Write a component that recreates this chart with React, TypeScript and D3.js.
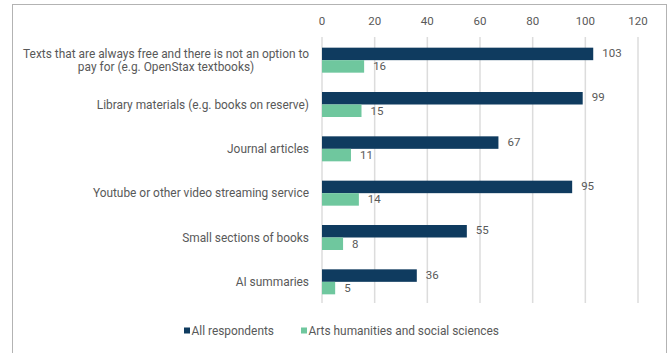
import React, { useLayoutEffect, useRef, useState } from "react";
import * as d3 from "d3";

const categories = [
  "Texts that are always free and there is not an option to pay for (e.g. OpenStax textbooks)",
  "Library materials (e.g. books on reserve)",
  "Journal articles",
  "Youtube or other video streaming service",
  "Small sections of books",
  "AI summaries",
];
const categoryLines = [
  ["Texts that are always free and there is not an option to", "pay for (e.g. OpenStax textbooks)"],
  ["Library materials (e.g. books on reserve)"],
  ["Journal articles"],
  ["Youtube or other video streaming service"],
  ["Small sections of books"],
  ["AI summaries"],
];
const allRespondents = [103, 99, 67, 95, 55, 36];
const artsHumanities = [16, 15, 11, 14, 8, 5];
const seriesNames = ["All respondents", "Arts humanities and social sciences"];
const tickValues = [0, 20, 40, 60, 80, 100, 120];

const W = 669;
const H = 353;
const DARK = "#0f3b5f";
const GREEN = "#6fc79e";
const TEXT = "#595959";
const FONT = "Roboto, 'Noto Sans', sans-serif";
const CAT_SIZE = 11.9;

export default function App() {
  const x = d3.scaleLinear().domain([0, 120]).range([322, 638]);
  const y = d3.scaleBand<string>().domain(categories).range([37, 303]);
  const series = [allRespondents, artsHumanities];
  const colors = [DARK, GREEN];
  const barH = 12.5;
  const labelRight = 309;
  const lineGap = 13;

  const firstLineRef = useRef<SVGTextElement | null>(null);
  const [firstW, setFirstW] = useState(285);
  useLayoutEffect(() => {
    if (firstLineRef.current) {
      const w = firstLineRef.current.getComputedTextLength();
      if (w > 0 && Math.abs(w - firstW) > 0.5) setFirstW(w);
    }
  });

  return (
    <svg
      width={W}
      height={H}
      style={{ position: "absolute", left: 0, top: 0, background: "#fff" }}
      fontFamily={FONT}
    >
      <rect x={12.5} y={4.5} width={654} height={360} fill="#fff" stroke="#b3b3b3" strokeWidth={1} />
      {tickValues.map((t) => (
        <g key={t}>
          <line x1={x(t)} x2={x(t)} y1={37} y2={303} stroke="#dcdcdc" strokeWidth={1.5} />
          <text x={x(t)} y={21} textAnchor="middle" dominantBaseline="central" fontSize={11.5} fill={TEXT}>
            {t}
          </text>
        </g>
      ))}
      {categories.map((c, i) => {
        const cy = (y(c) as number) + y.bandwidth() / 2 + 1;
        const lines = categoryLines[i];
        return (
          <g key={c}>
            {series.map((s, k) => {
              const top = cy - barH + k * barH;
              return (
                <g key={k}>
                  <rect x={x(0)} y={top} width={x(s[i]) - x(0)} height={barH} fill={colors[k]} />
                  <text
                    x={x(s[i]) + 9}
                    y={top + barH / 2 - (k === 0 ? 1 : 0)}
                    dominantBaseline="central"
                    fontSize={11.5}
                    fill={TEXT}
                  >
                    {s[i]}
                  </text>
                </g>
              );
            })}
            {lines.map((ln, j) => {
              const ly = cy - ((lines.length - 1) * lineGap) / 2 + j * lineGap;
              if (j === 0) {
                return (
                  <text
                    key={j}
                    ref={lines.length > 1 ? firstLineRef : undefined}
                    x={labelRight}
                    y={ly}
                    textAnchor="end"
                    dominantBaseline="central"
                    fontSize={CAT_SIZE}
                    fill={TEXT}
                  >
                    {ln}
                  </text>
                );
              }
              return (
                <text
                  key={j}
                  x={labelRight - firstW / 2}
                  y={ly}
                  textAnchor="middle"
                  dominantBaseline="central"
                  fontSize={CAT_SIZE}
                  fill={TEXT}
                >
                  {ln}
                </text>
              );
            })}
          </g>
        );
      })}
      <g>
        <rect x={184} y={327.5} width={6} height={6} fill={DARK} />
        <text x={191.5} y={331} dominantBaseline="central" fontSize={CAT_SIZE} fill={TEXT}>
          {seriesNames[0]}
        </text>
        <rect x={301} y={327.5} width={6} height={6} fill={GREEN} />
        <text x={308.5} y={331} dominantBaseline="central" fontSize={CAT_SIZE} fill={TEXT}>
          {seriesNames[1]}
        </text>
      </g>
    </svg>
  );
}
